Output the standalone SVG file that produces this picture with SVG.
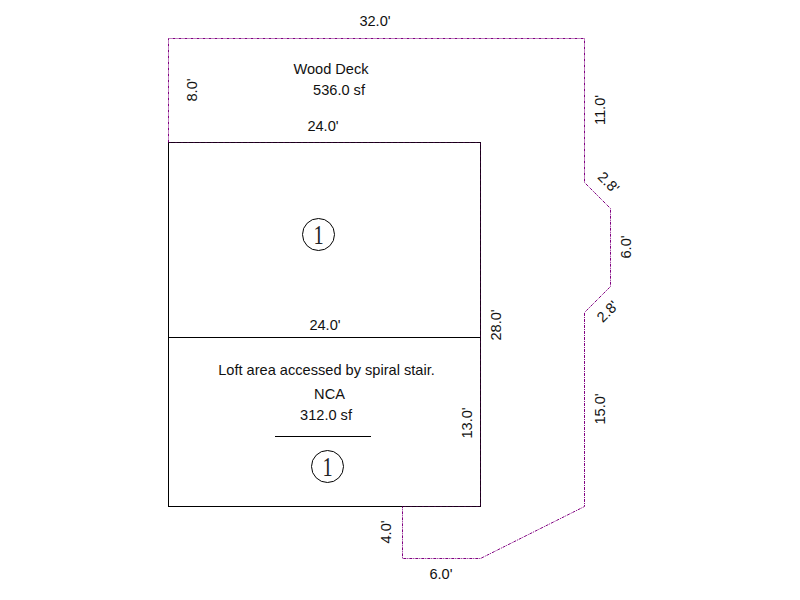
<svg xmlns="http://www.w3.org/2000/svg" width="800" height="600" viewBox="0 0 800 600">
<style>
text{font-family:"Liberation Sans",Arial,sans-serif;font-size:14.600px;fill:#111}
.m{text-anchor:middle}
.wall{fill:none;stroke:#000;stroke-width:1}
.deck{fill:none;stroke:#800080;stroke-width:1;stroke-dasharray:3 1 1 1}
.shared{stroke:#300030}
.num{font-family:"Liberation Serif",serif;font-size:27px;text-anchor:middle;fill:#222}
</style>
<rect width="800" height="600" fill="#fff"/>
<g id="loft">
<rect class="wall" x="168.500" y="142.500" width="312" height="364"/>
<line class="wall" x1="168" y1="337.500" x2="481" y2="337.500"/>
<line class="wall" x1="275" y1="436.500" x2="371" y2="436.500"/>
</g>
<g id="connectors">
<path class="deck" d="M168.500 142.500V38.500H584.500V182.500L610.500 208.500V286.500L584.500 312.500V506.500L480.500 558.500H402.500V506.500"/>
<path class="deck shared" d="M168.500 142.500H480.500V506.500H402.500"/>
</g>
<g id="marker-upper">
<circle class="wall" cx="318.500" cy="234.500" r="16"/>
<text class="num" transform="translate(318.500 244) scale(.75 1)">1</text>
</g>
<g id="marker-lower">
<circle class="wall" cx="327.500" cy="466.500" r="16"/>
<text class="num" transform="translate(327.500 476) scale(.75 1)">1</text>
</g>
<g id="labels">
<text class="m" x="375" y="26">32.0'</text>
<text class="m" x="331" y="74">Wood Deck</text>
<text class="m" x="339" y="95">536.0 sf</text>
<text class="m" x="323" y="131">24.0'</text>
<text class="m" x="325" y="330">24.0'</text>
<text class="m" x="326.500" y="375">Loft area accessed by spiral stair.</text>
<text class="m" x="329.500" y="399">NCA</text>
<text class="m" x="326" y="420">312.0 sf</text>
<text class="m" x="441" y="579">6.0'</text>
<text class="m" transform="translate(196.500 90) rotate(-90)">8.0'</text>
<text class="m" transform="translate(605 110) rotate(-90)">11.0'</text>
<text class="m" transform="translate(631 247) rotate(-90)">6.0'</text>
<text class="m" transform="translate(605 409) rotate(-90)">15.0'</text>
<text class="m" transform="translate(501 325) rotate(-90)">28.0'</text>
<text class="m" transform="translate(472 423) rotate(-90)">13.0'</text>
<text class="m" transform="translate(391 532) rotate(-90)">4.0'</text>
<text class="m" transform="translate(605 186) rotate(45)">2.8'</text>
<text class="m" transform="translate(611 315) rotate(-45)">2.8'</text>
</g>
</svg>
